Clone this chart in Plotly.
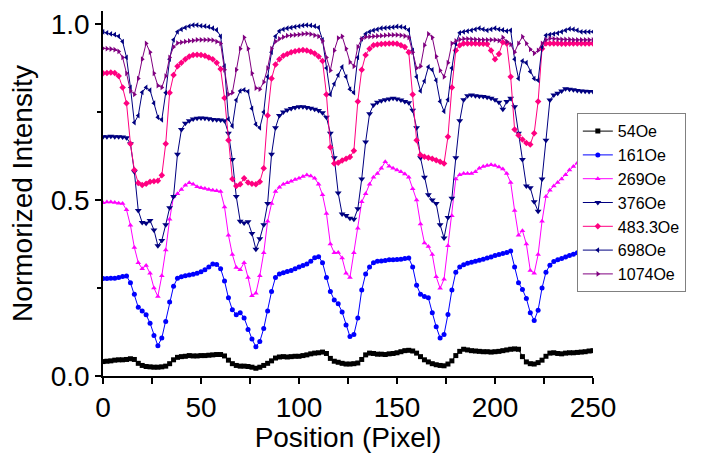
import plotly.graph_objects as go

# Position (pixel) sampled every 2 pixels
POSITION = list(range(0, 251, 2))

FIELD_54 = [
    0.041, 0.042, 0.043, 0.045, 0.046, 0.046, 0.047, 0.049, 0.047, 0.036,
    0.030, 0.027, 0.026, 0.025, 0.025, 0.026, 0.028, 0.035, 0.046, 0.053,
    0.055, 0.056, 0.058, 0.057, 0.057, 0.058, 0.058, 0.059, 0.060, 0.061,
    0.061, 0.057, 0.045, 0.035, 0.030, 0.028, 0.028, 0.027, 0.025, 0.022,
    0.025, 0.030, 0.036, 0.043, 0.051, 0.054, 0.055, 0.054, 0.055, 0.056,
    0.056, 0.058, 0.060, 0.063, 0.065, 0.066, 0.068, 0.064, 0.050, 0.042,
    0.039, 0.036, 0.034, 0.034, 0.035, 0.037, 0.047, 0.060, 0.065, 0.064,
    0.062, 0.062, 0.061, 0.063, 0.064, 0.066, 0.069, 0.072, 0.073, 0.071,
    0.065, 0.055, 0.046, 0.040, 0.035, 0.032, 0.030, 0.029, 0.034, 0.043,
    0.058, 0.070, 0.076, 0.074, 0.072, 0.071, 0.070, 0.069, 0.069, 0.068,
    0.069, 0.070, 0.072, 0.074, 0.076, 0.077, 0.076, 0.055, 0.040, 0.035,
    0.034, 0.038, 0.045, 0.056, 0.065, 0.066, 0.064, 0.063, 0.065, 0.066,
    0.066, 0.067, 0.068, 0.069, 0.071, 0.072,
]

FIELD_161 = [
    0.277, 0.277, 0.278, 0.278, 0.280, 0.283, 0.284, 0.265, 0.232, 0.195,
    0.185, 0.174, 0.150, 0.115, 0.086, 0.108, 0.155, 0.210, 0.255, 0.278,
    0.282, 0.285, 0.287, 0.289, 0.292, 0.296, 0.302, 0.310, 0.318, 0.317,
    0.305, 0.270, 0.222, 0.188, 0.174, 0.180, 0.165, 0.132, 0.105, 0.083,
    0.098, 0.135, 0.185, 0.240, 0.280, 0.290, 0.293, 0.297, 0.300, 0.305,
    0.310, 0.314, 0.318, 0.326, 0.336, 0.339, 0.322, 0.280, 0.240, 0.216,
    0.205, 0.182, 0.145, 0.112, 0.118, 0.165, 0.244, 0.290, 0.310, 0.322,
    0.326, 0.327, 0.328, 0.330, 0.330, 0.331, 0.332, 0.334, 0.335, 0.310,
    0.258, 0.232, 0.226, 0.222, 0.180, 0.140, 0.108, 0.118, 0.175, 0.244,
    0.295, 0.310, 0.316, 0.320, 0.323, 0.326, 0.329, 0.332, 0.335, 0.338,
    0.342, 0.345, 0.348, 0.351, 0.355, 0.310, 0.265, 0.246, 0.220, 0.180,
    0.158, 0.187, 0.250, 0.295, 0.315, 0.325, 0.330, 0.334, 0.338, 0.342,
    0.346, 0.350, 0.352, 0.355, 0.357, 0.360,
]

FIELD_269 = [
    0.492, 0.494, 0.494, 0.493, 0.491, 0.490, 0.472, 0.428, 0.365, 0.322,
    0.305, 0.314, 0.292, 0.250, 0.226, 0.285, 0.358, 0.445, 0.510, 0.518,
    0.530, 0.542, 0.549, 0.545, 0.538, 0.535, 0.533, 0.530, 0.528, 0.526,
    0.524, 0.480, 0.400, 0.345, 0.308, 0.302, 0.322, 0.280, 0.228, 0.235,
    0.285, 0.350, 0.440, 0.490, 0.524, 0.536, 0.545, 0.549, 0.553, 0.558,
    0.562, 0.567, 0.571, 0.568, 0.562, 0.545, 0.515, 0.462, 0.375, 0.350,
    0.351, 0.335, 0.292, 0.280, 0.350, 0.420, 0.495, 0.518, 0.545, 0.565,
    0.575, 0.590, 0.609, 0.596, 0.590, 0.585, 0.580, 0.574, 0.565, 0.532,
    0.500, 0.432, 0.378, 0.368, 0.345, 0.282, 0.249, 0.275, 0.370, 0.455,
    0.560, 0.572, 0.575, 0.575, 0.575, 0.580, 0.590, 0.595, 0.598, 0.600,
    0.598, 0.594, 0.588, 0.575, 0.550, 0.470, 0.400, 0.413, 0.375, 0.300,
    0.292, 0.345, 0.440, 0.510, 0.528, 0.540, 0.550, 0.560, 0.572, 0.585,
    0.595, 0.605, 0.608, 0.610, 0.612, 0.615,
]

FIELD_376 = [
    0.680, 0.680, 0.681, 0.680, 0.680, 0.679, 0.677, 0.660, 0.580, 0.470,
    0.436, 0.434, 0.442, 0.415, 0.370, 0.385, 0.430, 0.478, 0.510, 0.630,
    0.700, 0.718, 0.725, 0.730, 0.732, 0.733, 0.732, 0.731, 0.729, 0.728,
    0.727, 0.725, 0.690, 0.615, 0.510, 0.440, 0.435, 0.438, 0.405, 0.360,
    0.390, 0.430, 0.490, 0.630, 0.705, 0.740, 0.750, 0.756, 0.760, 0.763,
    0.765, 0.765, 0.763, 0.761, 0.758, 0.754, 0.748, 0.735, 0.690, 0.620,
    0.520, 0.460, 0.456, 0.448, 0.445, 0.475, 0.560, 0.665, 0.745, 0.770,
    0.778, 0.782, 0.785, 0.787, 0.789, 0.787, 0.784, 0.780, 0.776, 0.755,
    0.705, 0.620, 0.565, 0.515, 0.500, 0.490, 0.430, 0.392, 0.450, 0.505,
    0.620, 0.725, 0.785, 0.796, 0.798, 0.796, 0.795, 0.794, 0.792, 0.789,
    0.785, 0.778, 0.758, 0.780, 0.789, 0.765, 0.690, 0.615, 0.540, 0.535,
    0.495, 0.468, 0.560, 0.670, 0.784, 0.798, 0.803, 0.810, 0.816, 0.815,
    0.813, 0.811, 0.810, 0.809, 0.808, 0.808,
]

FIELD_483 = [
    0.860, 0.861, 0.862, 0.861, 0.852, 0.820, 0.775, 0.660, 0.585, 0.548,
    0.543, 0.546, 0.552, 0.553, 0.555, 0.570, 0.660, 0.805, 0.855, 0.880,
    0.890, 0.900, 0.908, 0.912, 0.913, 0.912, 0.910, 0.905, 0.900, 0.890,
    0.872, 0.790, 0.670, 0.560, 0.540, 0.545, 0.562, 0.550, 0.546, 0.545,
    0.552, 0.590, 0.740, 0.845, 0.885, 0.900, 0.910, 0.915, 0.920, 0.923,
    0.925, 0.926, 0.925, 0.921, 0.916, 0.908, 0.895, 0.800, 0.650, 0.604,
    0.606, 0.612, 0.617, 0.622, 0.640, 0.780, 0.870, 0.912, 0.930, 0.940,
    0.942, 0.943, 0.944, 0.945, 0.945, 0.944, 0.940, 0.935, 0.920, 0.800,
    0.670, 0.628, 0.623, 0.620, 0.617, 0.613, 0.609, 0.604, 0.680, 0.820,
    0.925, 0.940, 0.945, 0.945, 0.945, 0.945, 0.944, 0.944, 0.943, 0.925,
    0.900, 0.915, 0.948, 0.945, 0.850, 0.700, 0.684, 0.672, 0.662, 0.658,
    0.690, 0.780, 0.930, 0.945, 0.945, 0.945, 0.945, 0.944, 0.944, 0.945,
    0.945, 0.945, 0.945, 0.945, 0.945, 0.945,
]

FIELD_698 = [
    0.978, 0.975, 0.972, 0.970, 0.965, 0.950, 0.905, 0.820, 0.720, 0.740,
    0.806, 0.820, 0.812, 0.775, 0.735, 0.728, 0.805, 0.900, 0.955, 0.978,
    0.985, 0.990, 0.994, 0.997, 0.997, 0.995, 0.994, 0.992, 0.988, 0.983,
    0.965, 0.880, 0.730, 0.710, 0.784, 0.810, 0.813, 0.808, 0.760, 0.715,
    0.705, 0.750, 0.850, 0.920, 0.965, 0.980, 0.985, 0.988, 0.990, 0.992,
    0.994, 0.996, 0.997, 0.996, 0.994, 0.990, 0.955, 0.875, 0.800, 0.830,
    0.855, 0.878, 0.850, 0.815, 0.805, 0.905, 0.958, 0.972, 0.978, 0.982,
    0.985, 0.988, 0.989, 0.990, 0.991, 0.993, 0.992, 0.990, 0.983, 0.925,
    0.850, 0.810, 0.838, 0.878, 0.870, 0.840, 0.780, 0.752, 0.785, 0.875,
    0.945, 0.975, 0.978, 0.980, 0.982, 0.985, 0.988, 0.985, 0.982, 0.985,
    0.988, 0.985, 0.983, 0.980, 0.982, 0.900, 0.845, 0.895, 0.890, 0.865,
    0.845, 0.840, 0.935, 0.968, 0.970, 0.972, 0.974, 0.978, 0.982, 0.986,
    0.985, 0.982, 0.978, 0.978, 0.978, 0.978,
]

FIELD_1074 = [
    0.931, 0.930, 0.929, 0.927, 0.922, 0.905, 0.860, 0.810, 0.800, 0.845,
    0.900, 0.945, 0.920, 0.860, 0.825, 0.820, 0.852, 0.905, 0.935, 0.946,
    0.948, 0.950, 0.952, 0.953, 0.955, 0.955, 0.955, 0.955, 0.954, 0.950,
    0.945, 0.870, 0.800, 0.805, 0.870, 0.930, 0.962, 0.930, 0.860, 0.818,
    0.815, 0.835, 0.875, 0.930, 0.950, 0.958, 0.963, 0.967, 0.968, 0.969,
    0.970, 0.972, 0.973, 0.971, 0.968, 0.965, 0.952, 0.905, 0.868, 0.925,
    0.960, 0.965, 0.930, 0.892, 0.880, 0.935, 0.958, 0.963, 0.964, 0.965,
    0.966, 0.967, 0.968, 0.969, 0.969, 0.969, 0.968, 0.966, 0.962, 0.920,
    0.875, 0.880, 0.940, 0.972, 0.962, 0.908, 0.868, 0.850, 0.890, 0.945,
    0.952, 0.956, 0.958, 0.958, 0.957, 0.956, 0.955, 0.955, 0.955, 0.955,
    0.955, 0.953, 0.962, 0.950, 0.942, 0.920, 0.945, 0.964, 0.945, 0.928,
    0.917, 0.925, 0.945, 0.955, 0.959, 0.958, 0.957, 0.956, 0.956, 0.956,
    0.955, 0.955, 0.955, 0.955, 0.955, 0.955,
]

SERIES_NAMES = ["54Oe", "161Oe", "269Oe", "376Oe", "483.3Oe", "698Oe", "1074Oe"]
SERIES_VALUES = [FIELD_54, FIELD_161, FIELD_269, FIELD_376, FIELD_483, FIELD_698, FIELD_1074]
COLORS = ["#000000", "#0000FF", "#FF00FF", "#000080", "#FF0080", "#000080", "#800080"]
SYMBOLS = ["square", "circle", "triangle-up", "triangle-down", "diamond",
           "triangle-left", "triangle-right"]
SIZES = [5, 5, 5, 6, 5, 5, 5]

FONT = "Liberation Sans, Arial, Helvetica, sans-serif"

fig = go.Figure()
for name, vals, col, sym, sz in zip(SERIES_NAMES, SERIES_VALUES, COLORS, SYMBOLS, SIZES):
    fig.add_trace(go.Scatter(
        x=POSITION[:len(vals)], y=vals, name=name, mode="lines+markers",
        line=dict(color=col, width=1),
        marker=dict(symbol=sym, size=sz, color=col, line=dict(width=0)),
    ))

fig.update_layout(
    width=702, height=453,
    margin=dict(l=103, r=109, t=11, b=77, autoexpand=False),
    paper_bgcolor="white", plot_bgcolor="white",
    font=dict(family=FONT, color="black"),
    showlegend=True,
    legend=dict(
        x=0.967, y=0.72, xanchor="left", yanchor="top",
        bgcolor="white", bordercolor="#808080", borderwidth=1,
        font=dict(family=FONT, size=16, color="black"),
        tracegroupgap=0,
    ),
)
fig.update_xaxes(
    range=[0, 250], tickvals=[0, 50, 100, 150, 200, 250],
    showline=True, linecolor="black", linewidth=1.5, mirror=False,
    ticks="outside", ticklen=6, tickwidth=1.5, tickcolor="black",
    minor=dict(tickvals=[25, 75, 125, 175, 225], ticks="outside", ticklen=6,
               tickwidth=1.5, tickcolor="black"),
    showgrid=False, zeroline=False, automargin=False,
    tickfont=dict(family=FONT, size=28, color="black"),
    title=dict(text="Position (Pixel)", font=dict(family=FONT, size=28, color="black"),
               standoff=4),
)
fig.update_yaxes(
    range=[0, 1.037], tickvals=[0, 0.5, 1.0], ticktext=["0.0", "0.5", "1.0"],
    showline=True, linecolor="black", linewidth=1.5, mirror=False,
    ticks="outside", ticklen=6, tickwidth=1.5, tickcolor="black",
    minor=dict(tickvals=[0.25, 0.75], ticks="outside", ticklen=4,
               tickwidth=1.5, tickcolor="black"),
    showgrid=False, zeroline=False, automargin=False,
    tickfont=dict(family=FONT, size=28, color="black"),
    title=dict(text="Normorized Intensity", font=dict(family=FONT, size=28, color="black"),
               standoff=10),
)

fig.write_html(
    "out.html",
    config={"displayModeBar": False},
    post_script="document.body.style.margin='0px';document.body.style.padding='0px';",
)
